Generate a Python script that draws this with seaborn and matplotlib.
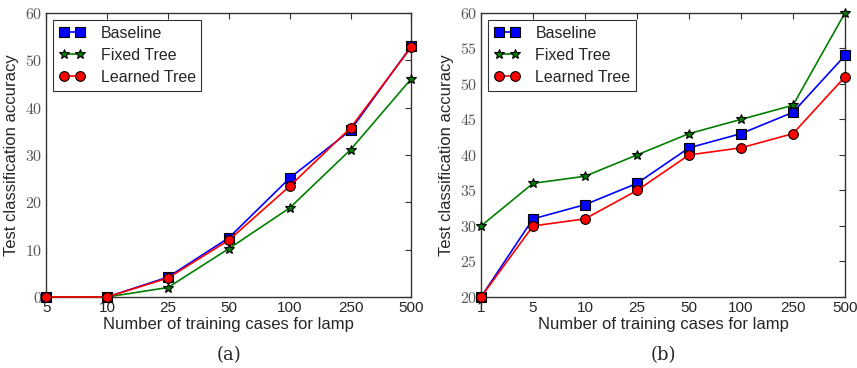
import numpy as np
import pandas as pd
import matplotlib
matplotlib.use("Agg")
import matplotlib.pyplot as plt
import seaborn as sns

# 数据 (a)
cases_a = ["5", "10", "25", "50", "100", "250", "500"]
baseline_a = [0, 0, 4.2, 12.5, 25.1, 35.2, 53.0]
fixed_a = [0, 0, 2.0, 10.2, 18.8, 31.1, 46.1]
learned_a = [0, 0, 4.0, 12.0, 23.4, 35.7, 52.8]

# 数据 (b)
cases_b = ["1", "5", "10", "25", "50", "100", "250", "500"]
baseline_b = [20, 31, 33, 36, 41, 43, 46, 54]
fixed_b = [30, 36, 37, 40, 43, 45, 47, 60]
learned_b = [20, 30, 31, 35, 40, 41, 43, 51]

sns.set_style("white")
plt.rcParams['font.family'] = ['Liberation Sans', 'DejaVu Sans']
plt.rcParams['mathtext.fontset'] = 'cm'

series_style = [
    ("Baseline", "#0000ff", "s", 7),
    ("Fixed Tree", "#007f00", "*", 7),
    ("Learned Tree", "#ff0000", "o", 7),
]


def draw(ax, cases, values, ylim, yticks, caption):
    pos = np.arange(len(cases))
    for (name, color, mk, ms), vals in zip(series_style, values):
        df = pd.DataFrame({"pos": pos, "acc": vals})
        sns.lineplot(data=df, x="pos", y="acc", ax=ax, color=color, marker=mk,
                     markersize=ms, markeredgecolor="black", markeredgewidth=0.8,
                     linewidth=1.2, label=name, clip_on=False, zorder=3)
    ax.set_xlim(0, len(cases) - 1)
    ax.set_ylim(*ylim)
    ax.set_xticks(pos)
    ax.set_xticklabels(cases, fontsize=11)
    ax.set_yticks(yticks)
    ax.set_yticklabels([f"${t}$" for t in yticks], fontsize=11.5, color="#555555")
    ax.tick_params(direction="in", top=True, right=True, length=4, width=0.8,
                   color="#333333", pad=3)
    for s in ax.spines.values():
        s.set_color("#333333")
        s.set_linewidth(1.0)
    ax.set_xlabel("Number of training cases for lamp", fontsize=12, labelpad=1)
    ax.set_ylabel("Test classification accuracy", fontsize=12, labelpad=4)
    leg = ax.legend(loc="upper left", numpoints=2, fontsize=11.5, fancybox=False,
                    frameon=True, edgecolor="black", borderaxespad=0.45,
                    handlelength=1.6, handletextpad=1.0, labelspacing=0.45,
                    borderpad=0.35)
    leg.get_frame().set_linewidth(0.8)
    ax.text(0.5, -0.205, caption, transform=ax.transAxes, ha="center", va="center",
            fontsize=13, family="DejaVu Serif")


fig = plt.figure(figsize=(8.57, 3.68), dpi=100)
ax1 = fig.add_axes([0.054, 0.193, 0.426, 0.772])
ax2 = fig.add_axes([0.5613, 0.193, 0.4247, 0.772])

draw(ax1, cases_a, [baseline_a, fixed_a, learned_a], (0, 60), list(range(0, 61, 10)), "(a)")
draw(ax2, cases_b, [baseline_b, fixed_b, learned_b], (20, 60), list(range(20, 61, 5)), "(b)")

fig.savefig("out.png", dpi=100)
